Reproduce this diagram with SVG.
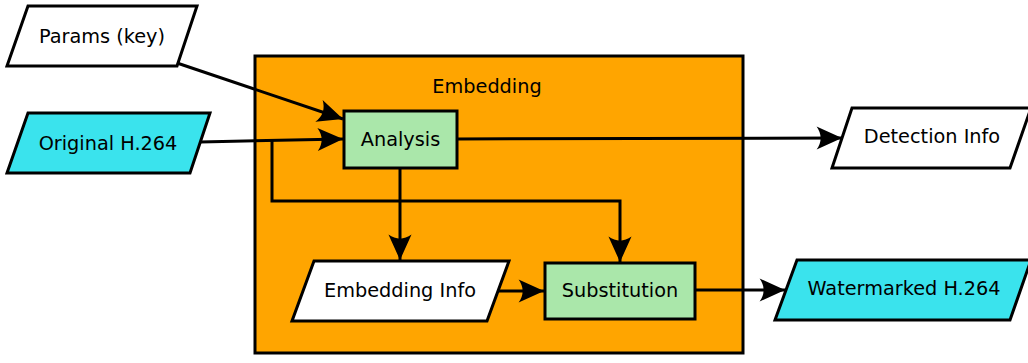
<svg xmlns="http://www.w3.org/2000/svg" width="1028" height="363" viewBox="0 0 1028 363">
<style>
text{font-family:"DejaVu Sans","Liberation Sans",sans-serif;font-size:19.3px;fill:#000;text-anchor:middle}
.io{fill:#fff;stroke:#000;stroke-width:3;stroke-linejoin:miter}
.media{fill:#3ae3ed;stroke:#000;stroke-width:3}
.proc{fill:#aae7aa;stroke:#000;stroke-width:3}
.group{fill:#ffa500;stroke:#000;stroke-width:3}
.conn{fill:none;stroke:#000;stroke-width:3;marker-end:url(#arr)}
</style>
<defs>
<marker id="arr" markerUnits="userSpaceOnUse" markerWidth="30" markerHeight="30" viewBox="-24 -12 26 24" refX="0" refY="0" orient="auto">
<path d="M0,0 L-22,-10 Q-15,0 -22,10 Z" fill="#000"/>
</marker>
</defs>
<g id="embedding">
<rect class="group" x="255" y="56" width="488" height="297"/>
<text x="487" y="93">Embedding</text>
</g>
<g id="params">
<polygon class="io" points="28,6 197,6 177,66 7,66"/>
<text x="102" y="43">Params (key)</text>
</g>
<g id="original">
<polygon class="media" points="28,113 210,113 190,173 7,173"/>
<text x="108" y="150">Original H.264</text>
</g>
<g id="analysis">
<rect class="proc" x="344" y="111" width="113" height="57"/>
<text x="400.5" y="146">Analysis</text>
</g>
<g id="embedding-info">
<polygon class="io" points="314,261 509,261 487,321 292,321"/>
<text x="400" y="297">Embedding Info</text>
</g>
<g id="substitution">
<rect class="proc" x="545" y="263" width="150" height="56"/>
<text x="620" y="297">Substitution</text>
</g>
<g id="detection-info">
<polygon class="io" points="852,108 1031,108 1010,168 832,168"/>
<text x="932" y="143">Detection Info</text>
</g>
<g id="watermarked">
<polygon class="media" points="797,260 1031,260 1010,320 775,320"/>
<text x="904" y="295">Watermarked H.264</text>
</g>
<g id="connectors">
<path class="conn" d="M177,63 L343,119"/>
<path class="conn" d="M200,142 L343,139"/>
<path class="conn" d="M272,141 L272,201 L620,201 L620,262"/>
<path class="conn" d="M400,168 L400,260"/>
<path class="conn" d="M457,139 L842,138"/>
<path class="conn" d="M498,291 L544,291"/>
<path class="conn" d="M695,290 L785,290"/>
</g>
</svg>
